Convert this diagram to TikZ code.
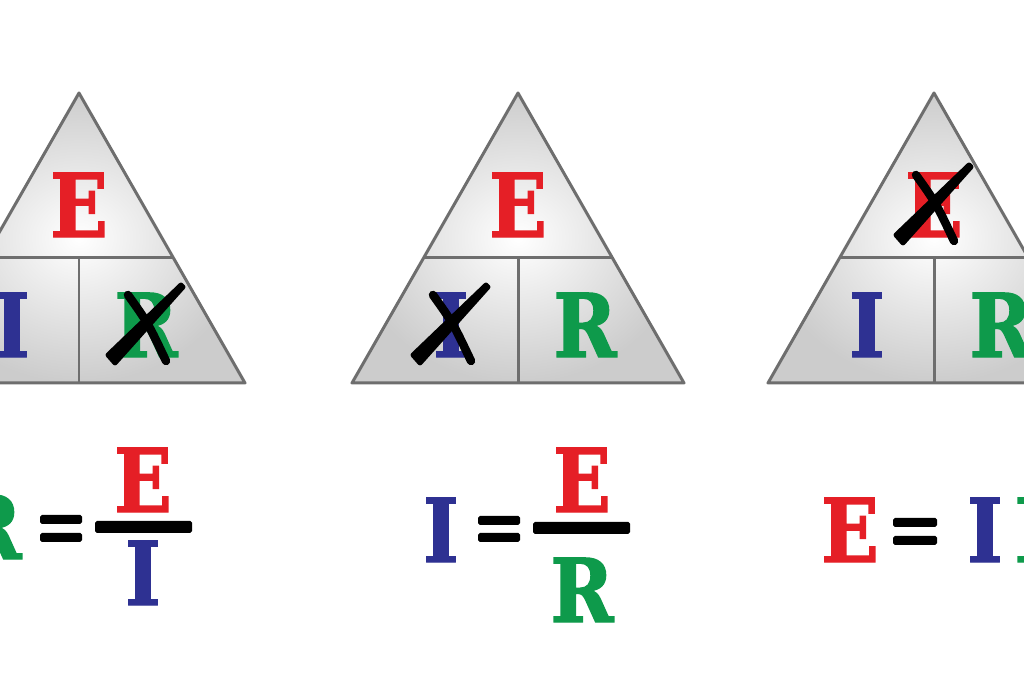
\documentclass[tikz,border=0pt]{standalone}
\usepackage{fontspec}
\setmainfont{DejaVu Serif}
\newfontfamily\slab[FakeStretch=0.86, FakeBold=1.6]{DejaVu Serif Bold}
\usepackage{tikz}

\definecolor{ered}{HTML}{E51F26}
\definecolor{iblue}{HTML}{2E3192}
\definecolor{rgreen}{HTML}{0E9A4B}
\definecolor{edge}{HTML}{6E6E6E}

\tikzset{
  letter/.style={inner sep=0pt, font=\slab\fontsize{25}{25}\selectfont},
  tri/.style={draw=edge, line width=0.85pt, line join=round, inner color=white, outer color=gray!40},
  split/.style={draw=edge, line width=0.85pt},
  stroke/.style={black, line width=0.085cm, line cap=round},
  eqbar/.style={fill=black, rounded corners=0.5pt}
}

% cross drawn over a letter
\newcommand{\markx}[1]{%
  \begin{scope}[shift={(#1)}]
    \filldraw[black, line width=1.4pt, line join=round]
      (-38,30) -- (35,-40) -- (37,-38) -- (-31,38) -- cycle;
    \draw[stroke] (-18,-30) .. controls (2,-2) .. (20,36);
  \end{scope}}

\begin{document}
\begin{tikzpicture}[x=0.01cm, y=-0.01cm]
    \useasboundingbox (0,0) rectangle (1024,683);
    \clip (0,0) rectangle (1024,683);
    % triangles
    \foreach \cx/\n in {79/1, 518/2, 934/3}{
        \path[tri, shade] (\cx,93) -- (\cx+166,383) -- (\cx-166,383) -- cycle;
        \draw[split] (\cx-94,258) -- (\cx+94,258);
        \draw[split] (\cx,258) -- (\cx,383);
        \node[letter, ered] (e\n) at (\cx,205) {E};
        \node[letter, iblue] (i\n) at (\cx-67,325) {I};
        \node[letter, rgreen] (r\n) at (\cx+67,325) {R};
    }
    % crossed out letters
    \markx{r1}
    \markx{i2}
    \markx{e3}
    % R = E / I
    \node[letter, rgreen] (rA) at (-10,527) {R};
    \fill[eqbar] (40,515) rectangle (82,524);
    \fill[eqbar] (40,533) rectangle (82,542);
    \fill[eqbar] (95,521) rectangle (192,533);
    \node[letter, ered] (eA) at (143,480) {E};
    \node[letter, iblue] (iA) at (143,573) {I};
    % I = E / R
    \node[letter, iblue] (iB) at (441,530) {I};
    \fill[eqbar] (478,516) rectangle (520,525);
    \fill[eqbar] (478,533) rectangle (520,542);
    \fill[eqbar] (533,522) rectangle (630,534);
    \node[letter, ered] (eB) at (582,480) {E};
    \node[letter, rgreen] (rB) at (582,590) {R};
    % E = I R
    \node[letter, ered] (eC) at (850,530) {E};
    \fill[eqbar] (893,518) rectangle (937,527);
    \fill[eqbar] (893,536) rectangle (937,545);
    \node[letter, iblue] (iC) at (985,530) {I};
    \node[letter, rgreen] (rC) at (1046,530) {R};
\end{tikzpicture}
\end{document}
